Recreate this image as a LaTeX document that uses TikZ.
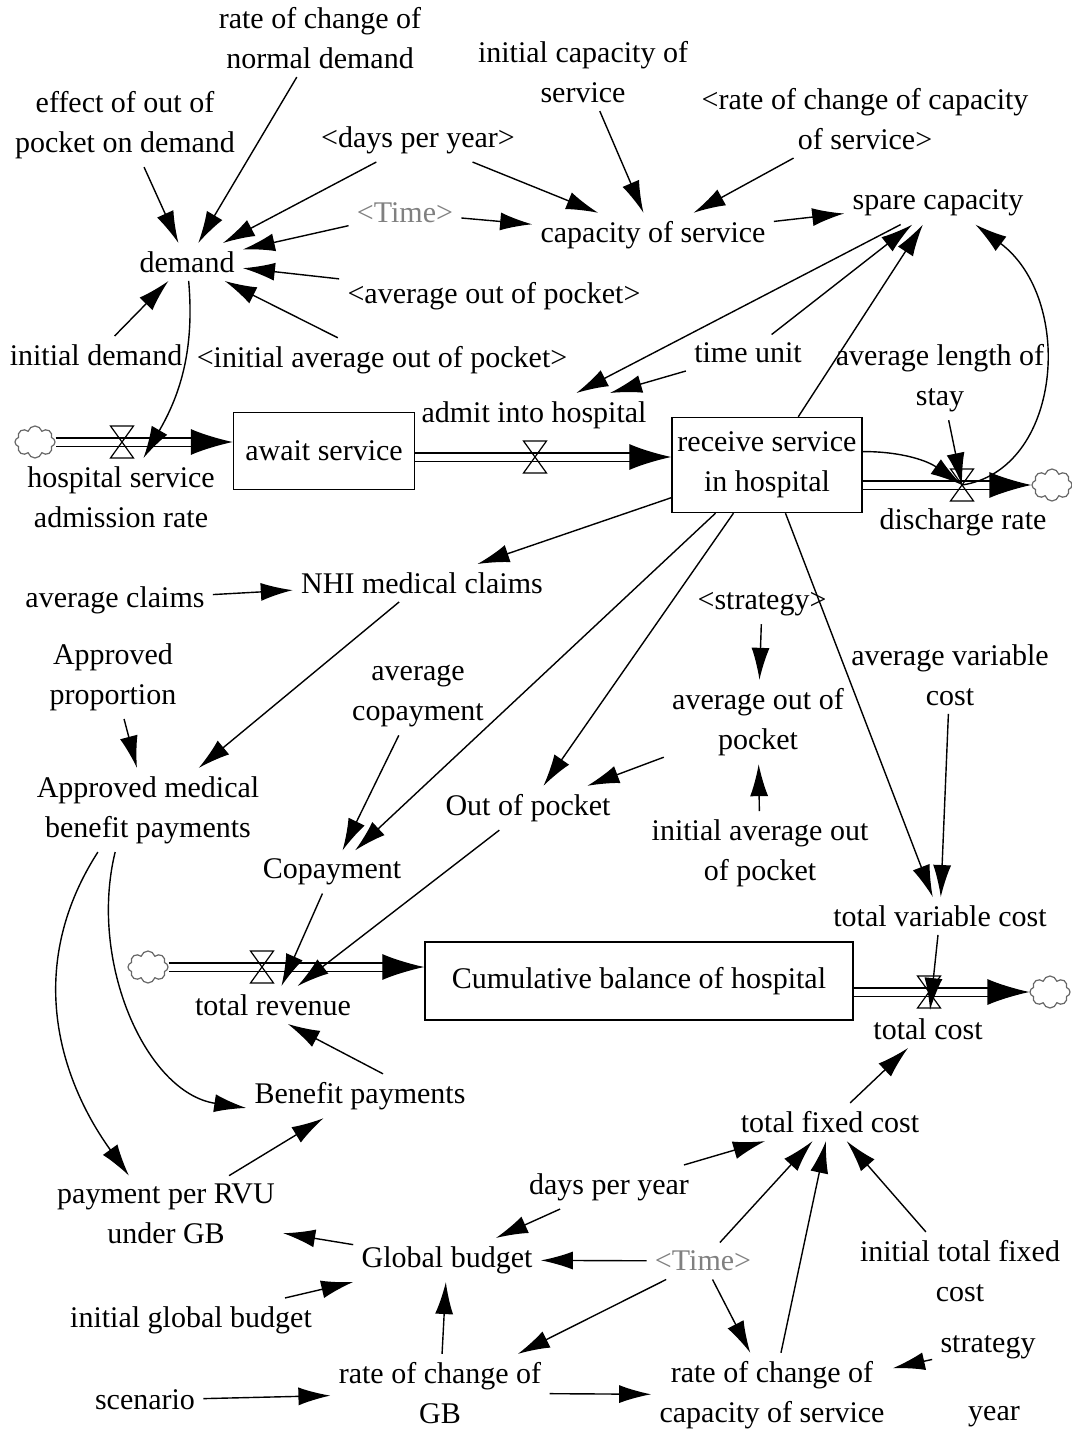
\documentclass[tikz,border=0pt]{standalone}
\usepackage{fontspec}
\setmainfont{Liberation Serif}
\usetikzlibrary{arrows.meta,shapes.symbols}
\tikzset{
  var/.style={align=center, inner sep=4pt},
  ghost/.style={var, text=black!50},
  stock/.style={draw, line width=0.7pt, inner sep=0pt, align=center},
  link/.style={-{Latex[length=16pt,width=9pt]}, line width=0.7pt},
  pipe/.style={double, double distance=3.5pt, line width=0.6pt, -{Latex[length=21pt,width=13pt]}},
  sink/.style={cloud, cloud puffs=8, aspect=1.4, draw=black!60, line width=0.6pt, minimum width=20pt, minimum height=16pt, inner sep=0pt},
  valve/.pic={\draw[line width=0.6pt] (-11.5,-16) -- (11.5,-16) -- (-11.5,16) -- (11.5,16) -- cycle;}
}
\begin{document}
\begin{tikzpicture}[x=0.5pt,y=-0.5pt,font=\fontsize{15}{20}\selectfont]
\useasboundingbox (0,0) rectangle (1071,1433);

\node[var] (rocnd) at (320,38) {rate of change of\\normal demand};
\node[var] (effoop) at (125,125) {effect of out of\\pocket on demand};
\node[var] (icap) at (583,72) {initial capacity of\\service};
\node[var] (rcapref) at (865,119) {<rate of change of capacity\\of service>};
\node[var] (dpyref) at (418,140) {<days per year>};
\node[ghost] (timeA) at (405,213) {<Time>};
\node[var] (cap) at (653,235) {capacity of service};
\node[var] (spare) at (938,203) {spare capacity};
\node[var] (demand) at (187,262) {demand};
\node[var] (aoopref) at (494,296) {<average out of pocket>};
\node[var] (idemand) at (96,355) {initial demand};
\node[var] (iaoopref) at (382,360) {<initial average out of pocket>};
\node[var] (tunit) at (748,353) {time unit};
\node[var] (alos) at (940,378) {average length of\\stay};

\node[stock, minimum width=90.5pt, minimum height=38.5pt] (await) at (324,451) {await service};
\node[stock, minimum width=95pt, minimum height=47.5pt] (receive) at (767,465) {receive service\\in hospital};
\node[stock, minimum width=214pt, minimum height=39pt] (cum) at (639,981) {Cumulative balance of hospital};

\node[sink] (cloudA) at (35,442) {};
\coordinate (vA) at (122,442);
\node[var] (hsar) at (121,497) {hospital service\\admission rate};
\coordinate (vB) at (535,457);
\node[var] (admit) at (534,415) {admit into hospital};
\coordinate (vC) at (962,485);
\node[var] (discharge) at (963,522) {discharge rate};
\node[sink] (cloudB) at (1052,485) {};

\node[var] (nhi) at (422,583) {NHI medical claims};
\node[var] (avgclaims) at (115,600) {average claims};
\node[var] (stratref) at (762,604) {<strategy>};
\node[var] (approp) at (113,677) {Approved\\proportion};
\node[var] (avgcopay) at (418,696) {average\\copayment};
\node[var] (avgoop) at (758,722) {average out of\\pocket};
\node[var] (avc) at (950,675) {average variable\\cost};
\node[var] (apmed) at (148,810) {Approved medical\\benefit payments};
\node[var] (oop) at (528,808) {Out of pocket};
\node[var] (iavgoop) at (760,853) {initial average out\\of pocket};
\node[var] (copay) at (332,872) {Copayment};
\node[var] (tvc) at (940,916) {total variable cost};

\node[sink] (cloudC) at (148,967) {};
\coordinate (vD) at (262,967);
\node[var] (trev) at (273,1005) {total revenue};
\coordinate (vE) at (929,992);
\node[var] (tcost) at (928,1029) {total cost};
\node[sink] (cloudD) at (1050,992) {};
\node[var] (benefit) at (360,1096) {Benefit payments};
\node[var] (tfc) at (830,1122) {total fixed cost};
\node[var] (dpy) at (609,1187) {days per year};
\node[var] (prvu) at (166,1214) {payment per RVU\\under GB};
\node[var] (gb) at (447,1260) {Global budget};
\node[ghost] (timeB) at (703,1261) {<Time>};
\node[var] (itfc) at (960,1271) {initial total fixed\\cost};
\node[var] (igb) at (191,1320) {initial global budget};
\node[var] (strategy) at (988,1347) {strategy};
\node[var] (scenario) at (145,1400) {scenario};
\node[var] (rocgb) at (440,1393) {rate of change of\\GB};
\node[var] (roccap) at (772,1395) {rate of change of\\capacity of service};
\node[var] (year) at (994,1417) {year};

\draw[pipe] (cloudA) -- (await.west |- cloudA);
\draw[pipe] (await.east |- vB) -- (receive.west |- vB);
\draw[pipe] (receive.east |- vC) -- (cloudB);
\draw[pipe] (cloudC) -- (cum.west |- cloudC);
\draw[pipe] (cum.east |- vE) -- (cloudD);
\pic at (vA) {valve};
\pic at (vB) {valve};
\pic at (vC) {valve};
\pic at (vD) {valve};
\pic at (vE) {valve};

\draw[link] (effoop) -- (demand);
\draw[link] (rocnd) -- (demand);
\draw[link] (dpyref) -- (demand);
\draw[link] (timeA) -- (demand);
\draw[link] (aoopref) -- (demand);
\draw[link] (iaoopref) -- (demand);
\draw[link] (idemand) -- (demand);
\draw[link] (demand) to[out=-85,in=60] (hsar);
\draw[link] (dpyref) -- (cap);
\draw[link] (timeA) -- (cap);
\draw[link] (icap) -- (cap);
\draw[link] (rcapref) -- (cap);
\draw[link] (cap) -- (spare);
\draw[link] (spare.-150) -- (admit);
\draw[link] (tunit) -- (spare.-140);
\draw[link] (tunit) -- (admit);
\draw[link] (receive) -- (spare.-125);
\draw[link] (vC) .. controls +(100,-15) and +(100,75) .. (spare.-30);
\draw[link] (alos) -- (vC);
\draw[link] (receive.8) to[out=0,in=145] (vC);

\draw[link] (receive) -- (nhi);
\draw[link] (receive) -- (copay);
\draw[link] (receive) -- (oop);
\draw[link] (receive) -- (tvc);
\draw[link] (avgclaims) -- (nhi);
\draw[link] (nhi) -- (apmed);
\draw[link] (approp) -- (apmed);
\draw[link] (avgcopay) -- (copay);
\draw[link] (avgoop) -- (oop);
\draw[link] (stratref) -- (avgoop);
\draw[link] (iavgoop) -- (avgoop);
\draw[link] (avc) -- (tvc);
\draw[link] (copay) -- (trev);
\draw[link] (oop) -- (trev);
\draw[link] (tvc) -- (tcost);

\draw[link] (benefit.44) -- (trev.-52);
\draw[link] (tfc) -- (tcost);
\draw[link] (dpy) -- (tfc);
\draw[link] (dpy) -- (gb);
\draw[link] (timeB) -- (gb);
\draw[link] (timeB) -- (tfc);
\draw[link] (timeB) -- (rocgb);
\draw[link] (timeB) -- (roccap);
\draw[link] (roccap) -- (tfc);
\draw[link] (itfc) -- (tfc);
\draw[link] (strategy) -- (roccap);
\draw[link] (scenario) -- (rocgb);
\draw[link] (rocgb) -- (roccap);
\draw[link] (rocgb) -- (gb);
\draw[link] (igb) -- (gb);
\draw[link] (gb) -- (prvu);
\draw[link] (prvu) -- (benefit);
\draw[link] (apmed.-140) .. controls +(-77,120) and +(-65,-90) .. (prvu.134);
\draw[link] (apmed.-128) .. controls +(-27,110) and +(-100,-15) .. (benefit.186);
\end{tikzpicture}
\end{document}
